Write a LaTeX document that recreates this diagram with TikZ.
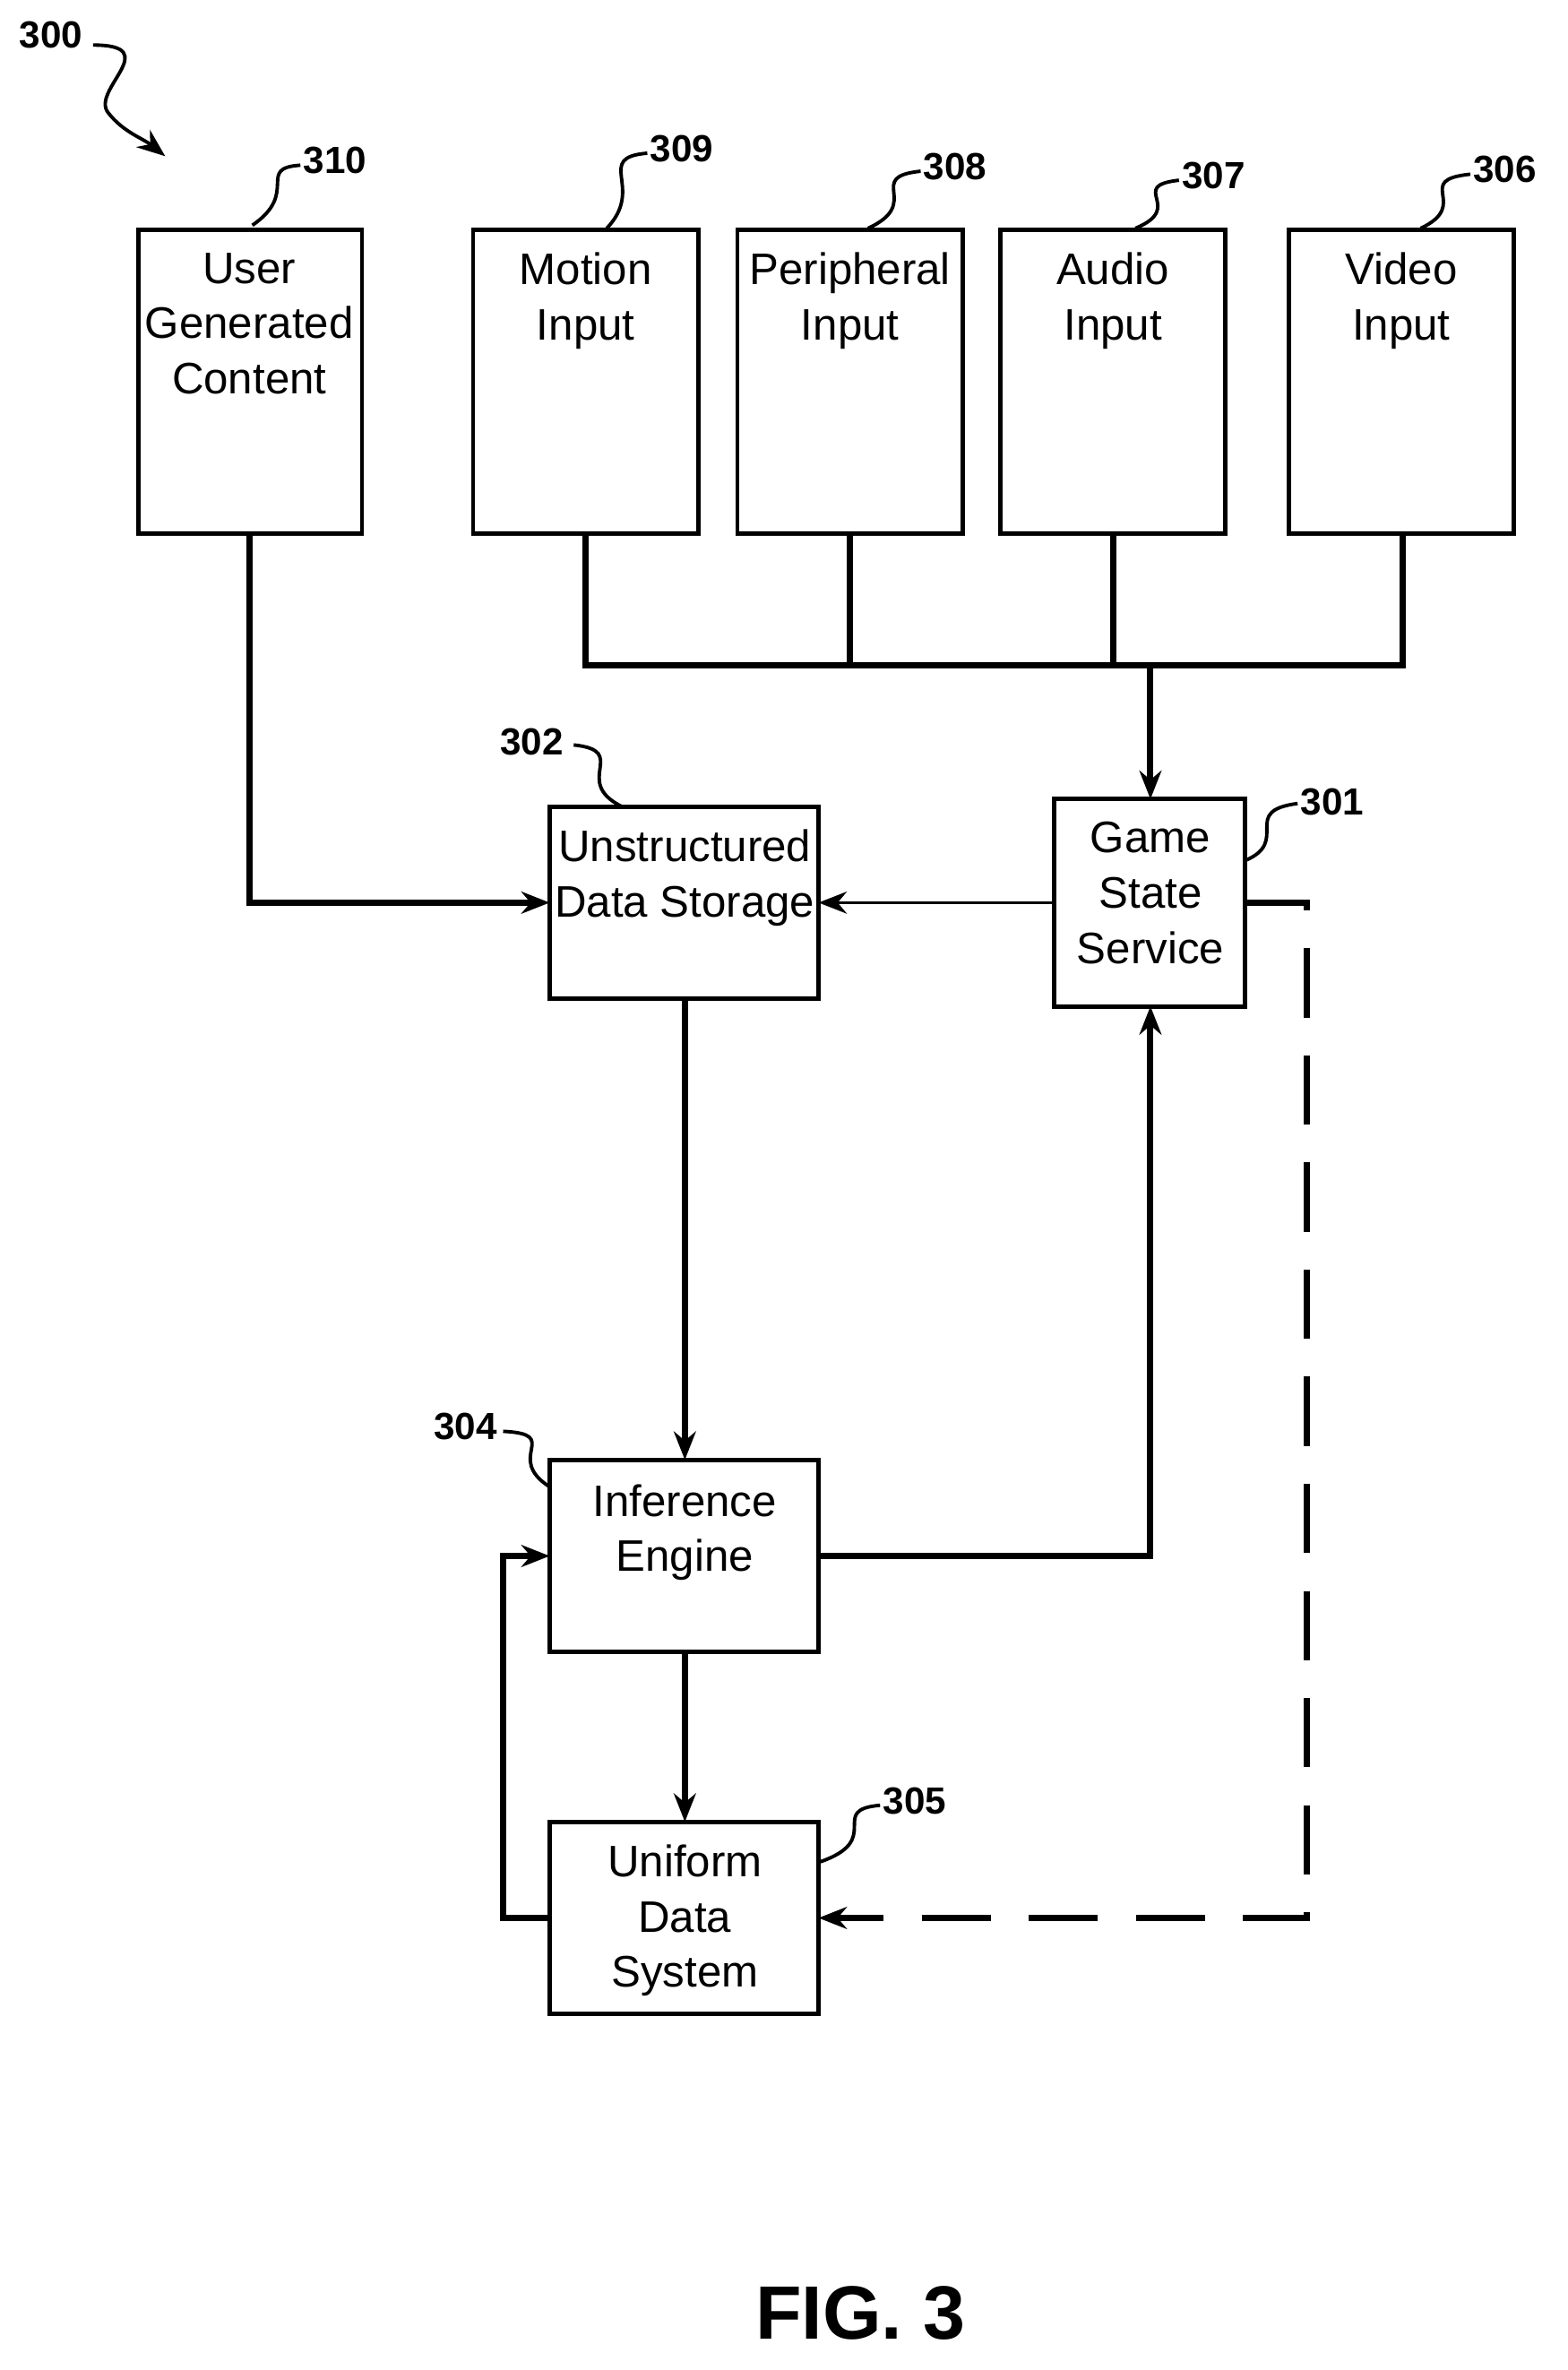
\documentclass[tikz,border=0pt]{standalone}
\usepackage{fontspec}
\setmainfont{Liberation Sans}
\usetikzlibrary{positioning}
\usetikzlibrary{arrows.meta}
\tikzset{>={Stealth[length=9pt,width=7pt]}}
\tikzset{
  blk/.style={draw, line width=1.4pt, anchor=north west, align=center,
    inner sep=0pt, font=\fontsize{14}{17}\selectfont, text height=10pt},
  conn/.style={line width=2pt},
  ref/.style={font=\bfseries\fontsize{12}{14}\selectfont},
  squig/.style={line width=1.1pt}
}
% box with top-aligned text: name, x, y, w, h, text
\newcommand{\blkbox}[6]{%
  \draw[line width=1.4pt] (#2,#3) rectangle ++(#4,#5);
  \node[align=center, anchor=north, font=\fontsize{14}{17.5}\selectfont] at (#2+#4/2,#3-6) {#6};
  \coordinate (#1) at (#2,#3);
}
\begin{document}
\begin{tikzpicture}[x=0.01676cm,y=-0.01676cm]
\useasboundingbox (0,0) rectangle (1044,1578);

% ---------------- Boxes ----------------
\draw[line width=1.4pt] (92,153) rectangle (241,355) node[pos=0,coordinate] (ugc) {};
\node[align=center, anchor=north, font=\fontsize{14}{17.5}\selectfont] (ugct) at (166,161) {User\\Generated\\Content};
\draw[line width=1.4pt] (315,153) rectangle (465,355);
\node[align=center, anchor=north, font=\fontsize{14}{17.5}\selectfont] (mot) at (390,161) {Motion\\Input};
\draw[line width=1.4pt] (491,153) rectangle (641,355);
\node[align=center, anchor=north, font=\fontsize{14}{17.5}\selectfont] (per) at (566,161) {Peripheral\\Input};
\draw[line width=1.4pt] (666,153) rectangle (816,355);
\node[align=center, anchor=north, font=\fontsize{14}{17.5}\selectfont] (aud) at (741,161) {Audio\\Input};
\draw[line width=1.4pt] (858,153) rectangle (1008,355);
\node[align=center, anchor=north, font=\fontsize{14}{17.5}\selectfont] (vid) at (933,161) {Video\\Input};

\draw[line width=1.4pt] (366,537) rectangle (545,665);
\node[align=center, anchor=north, font=\fontsize{14}{17.5}\selectfont] (uds) at (456,545) {Unstructured\\Data Storage};
\draw[line width=1.4pt] (702,532) rectangle (829,670);
\node[align=center, anchor=north, font=\fontsize{14}{17.5}\selectfont] (gss) at (766,540) {Game\\State\\Service};
\draw[line width=1.4pt] (366,972) rectangle (545,1100);
\node[align=center, anchor=north, font=\fontsize{14}{17.5}\selectfont] (ie) at (456,981) {Inference\\Engine};
\draw[line width=1.4pt] (366,1213) rectangle (545,1341);
\node[align=center, anchor=north, font=\fontsize{14}{17.5}\selectfont] (ud) at (456,1221) {Uniform\\Data\\System};

% ---------------- Connectors ----------------
\draw[conn] (390,355) -- (390,443) -- (934,443) -- (934,355);
\draw[conn] (566,355) -- (566,443);
\draw[conn] (741,355) -- (741,443);
\draw[conn,->] (766,443) -- (766,532);
\draw[conn,->] (166,355) -- (166,601) -- (366,601);
\draw[line width=1pt,->] (702,601) -- (545,601);
\draw[conn,->] (456,665) -- (456,972);
\draw[conn,->] (545,1036) -- (766,1036) -- (766,670);
\draw[conn,->] (456,1100) -- (456,1213);
\draw[conn,->] (366,1277) -- (335,1277) -- (335,1036) -- (366,1036);
\draw[conn,dash pattern=on 22pt off 12pt,->] (829,601) -- (870,601) -- (870,1277) -- (545,1277);

% ---------------- Reference numerals ----------------
\node[ref] (n300) at (34,23) {300};
\draw[squig,->] (62,30) .. controls (110,30) and (60,60) .. (72,75) .. controls (82,88) and (95,92) .. (110,104);
\node[ref] (n310) at (223,107) {310};
\draw[squig] (200,110) .. controls (170,112) and (200,128) .. (168,150);
\node[ref] (n309) at (454,99) {309};
\draw[squig] (431,102) .. controls (395,105) and (430,125) .. (404,152);
\node[ref] (n308) at (636,111) {308};
\draw[squig] (613,114) .. controls (575,118) and (615,135) .. (578,152);
\node[ref] (n307) at (808,117) {307};
\draw[squig] (785,120) .. controls (750,124) and (790,138) .. (756,152);
\node[ref] (n306) at (1002,113) {306};
\draw[squig] (979,116) .. controls (940,120) and (980,136) .. (946,152);
\node[ref] (n302) at (354,494) {302};
\draw[squig] (382,496) .. controls (420,500) and (380,520) .. (414,537);
\node[ref] (n301) at (887,534) {301};
\draw[squig] (864,535) .. controls (825,540) and (860,560) .. (829,573);
\node[ref] (n304) at (310,950) {304};
\draw[squig] (335,953) .. controls (375,955) and (335,970) .. (366,990);
\node[ref] (n305) at (609,1199) {305};
\draw[squig] (586,1202) .. controls (550,1205) and (590,1225) .. (545,1240);

\node[font=\bfseries\fontsize{24}{28}\selectfont] (fig) at (573,1540) {FIG. 3};
\end{tikzpicture}
\end{document}
